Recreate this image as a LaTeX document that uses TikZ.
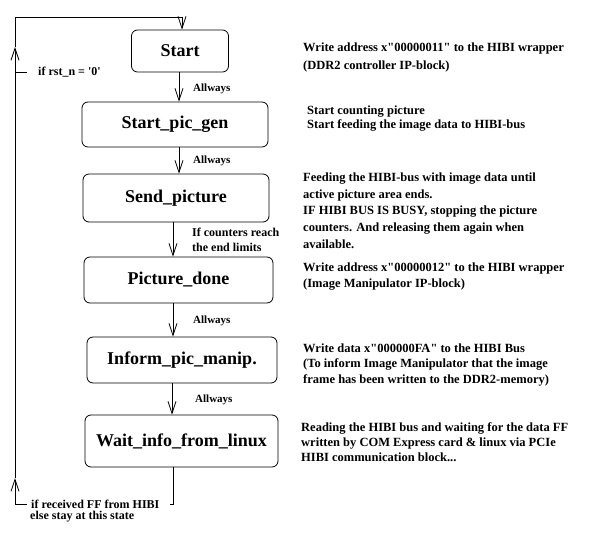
\documentclass[tikz,border=0pt]{standalone}
\usepackage{fontspec}
\setmainfont{Liberation Serif}
\usetikzlibrary{arrows.meta,positioning}

\tikzset{
  state/.style={draw, rounded corners=6pt, line width=0.8pt, font=\fontsize{18}{20}\selectfont\bfseries},
  wire/.style={line width=0.8pt},
  flow/.style={wire, -{Straight Barb[length=12pt,width=8pt]}},
  lbl/.style={inner sep=0pt, anchor=west, align=left, font=\fontsize{12}{15}\selectfont\bfseries},
  allw/.style={lbl, font=\fontsize{11}{13}\selectfont\bfseries},
  note/.style={inner sep=0pt, anchor=north west, align=left, font=\fontsize{12.5}{16}\selectfont\bfseries},
}
\newcommand{\dq}{\textquotedbl}

\begin{document}
\begin{tikzpicture}[x=1pt,y=-1pt]
\useasboundingbox[fill=white] (0,0) rectangle (597,553);

\node[state, minimum width=97pt, minimum height=42pt] (start) at (180,51) {Start};
\node[state, minimum width=186pt, minimum height=45pt] (spg) at (175,124.5) {Start\_pic\_gen};
\node[state, minimum width=186pt, minimum height=48pt] (send) at (176,198) {Send\_picture};
\node[state, minimum width=189pt, minimum height=46pt] (done) at (178.5,280) {Picture\_done};
\node[state, minimum width=190pt, minimum height=46pt] (inform) at (182,360) {Inform\_pic\_manip.};
\node[state, minimum width=193pt, minimum height=52pt] (wait) at (181.5,441) {Wait\_info\_from\_linux};

\node[allw] (al1) at (193,88.5) {Allways};
\node[allw] (al2) at (193,160.5) {Allways};
\node[lbl, font=\fontsize{12}{15}\selectfont\bfseries] (reach) at (192,239.5) {If counters reach\\the end limits};
\node[allw] (al3) at (193,321) {Allways};
\node[allw] (al4) at (195,399.5) {Allways};

\node[lbl] (rst) at (38,72) {if rst\_n = \textquotesingle 0\textquotesingle};
\node[lbl] (rcv) at (31,504) {if received FF from HIBI};
\node[lbl] (stay) at (30,517) {else stay at this state};

\node[note, font=\fontsize{12.5}{18.5}\selectfont\bfseries] (n1) at (303,42.5) {Write address x\dq 00000011\dq{} to the HIBI wrapper\\(DDR2 controller IP-block)};
\node[note, font=\fontsize{12.5}{14.5}\selectfont\bfseries] (n2) at (307,105.5) {Start counting picture\\Start feeding the image data to HIBI-bus};
\node[note, font=\fontsize{12.5}{16.7}\selectfont\bfseries] (n3) at (303,172.5) {Feeding the HIBI-bus with image data until\\active picture area ends.\\IF HIBI BUS IS BUSY, stopping the picture\\counters. And releasing them again when\\available.};
\node[note] (n4) at (303,262.5) {Write address x\dq 00000012\dq{} to the HIBI wrapper\\(Image Manipulator IP-block)};
\node[note, font=\fontsize{12.5}{15.5}\selectfont\bfseries] (n5) at (303,343.5) {Write data x\dq 000000FA\dq{} to the HIBI Bus\\(To inform Image Manipulator that the image\\frame has been written to the DDR2-memory)};
\node[note, font=\fontsize{12.5}{15}\selectfont\bfseries] (n6) at (301,422.5) {Reading the HIBI bus and waiting for the data FF\\written by COM Express card \& linux via PCIe\\HIBI communication block...};

\coordinate (lbot) at (15,478);
\coordinate (lmid) at (15,47);
\coordinate (ltop) at (15,17);

\draw[flow] ([xshift=-1pt]start.south) -- ([xshift=-1pt]start.south |- spg.north);
\draw[flow] ([xshift=4pt]spg.south) -- ([xshift=4pt]spg.south |- send.north);
\draw[flow] ([xshift=-3pt]send.south) -- ([xshift=-3pt]send.south |- done.north);
\draw[flow] ([xshift=-5.5pt]done.south) -- ([xshift=-5.5pt]done.south |- inform.north);
\draw[flow] ([xshift=-10pt]inform.south) -- ([xshift=-10pt]inform.south |- wait.north);

\draw[wire] ([xshift=-8.5pt]wait.south) |- ([xshift=10pt]rcv.east);
\draw[flow] ([xshift=-4pt]rcv.west) -| (lbot);
\draw[flow] (lbot) -- (lmid);
\draw[flow] (lmid) -- (ltop) -| ([xshift=2pt]start.north);
\draw[wire] ([xshift=-11pt]rst.west) -- (rst.west -| ltop);
\end{tikzpicture}
\end{document}
